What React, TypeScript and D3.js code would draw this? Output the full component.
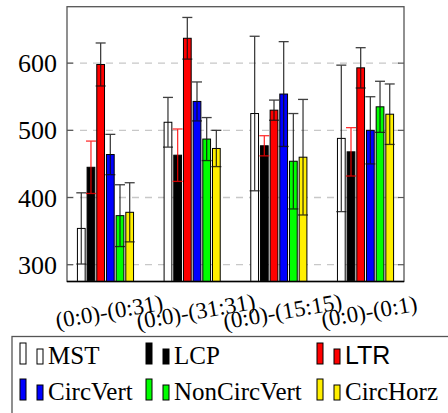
import React from 'react';
import * as d3 from 'd3';

const width = 448;
const height = 413;
const margin = {top: 6.7, right: 44, bottom: 131.5, left: 67};

const categories = ['(0:0)-(0:31)', '(0:0)-(31:31)', '(0:0)-(15:15)', '(0:0)-(0:1)'];
const series = ['MST', 'LCP', 'LTR', 'CircVert', 'NonCircVert', 'CircHorz'];
const colors = ['#ffffff', '#000000', '#ff0000', '#0000ff', '#00ff00', '#ffef00'];
const yTicks = [300, 400, 500, 600];

// mean and error half-width per series, one value per category
const mstValues = [354, 512, 525, 488];
const mstErrors = [53, 37, 115, 109];
const lcpValues = [445, 463, 477, 468];
const lcpErrors = [39, 39, 15, 36];
const ltrValues = [598, 637, 530, 593];
const ltrErrors = [32, 31, 15, 30];
const circVertValues = [464, 543, 554, 500];
const circVertErrors = [30, 29, 78, 50];
const nonCircVertValues = [373, 487, 454, 535];
const nonCircVertErrors = [46, 32, 71, 38];
const circHorzValues = [378, 473, 460, 524];
const circHorzErrors = [44, 27, 86, 45];

const values = [mstValues, lcpValues, ltrValues, circVertValues, nonCircVertValues, circHorzValues];
const errors = [mstErrors, lcpErrors, ltrErrors, circVertErrors, nonCircVertErrors, circHorzErrors];

const css = `
  .serif { font-family: 'Liberation Serif', 'Times New Roman', Times, serif; }
  .sans { font-family: 'Liberation Sans', Arial, Helvetica, sans-serif; }
`;

const xScale = d3.scalePoint<string>()
  .domain(categories)
  .range([margin.left, width - margin.right])
  .padding(0.444);
const inner = d3.scaleBand<string>().domain(series).range([-30, 30]).padding(0.2);
const yScale = d3.scaleLinear().domain([275, 684]).range([height - margin.bottom, margin.top]);

export default function App() {
  const x0 = margin.left;
  const x1 = width - margin.right;
  const yb = yScale(275);
  const yt = yScale(684);
  const bw = inner.bandwidth();

  const legendCols = [20, 146, 317];
  const legendRows = [364, 400];

  return (
    <svg width={width} height={height} style={{position: 'absolute', left: 0, top: 0}}>
      <style>{css}</style>
      <rect width={width} height={height} fill='#fff' />
      {/* grid */}
      {yTicks.map(t => (
        <line key={'g' + t} x1={x0} x2={x1} y1={yScale(t)} y2={yScale(t)}
          stroke='#c8c8c8' strokeWidth={1.3} strokeDasharray='7 6' />
      ))}
      {/* bars */}
      {series.map((s, si) => categories.map((c, ci) => {
        const cx = xScale(c)! + inner(s)! + bw / 2;
        const v = values[si][ci];
        return (
          <rect key={s + c} x={cx - bw / 2} y={yScale(v)} width={bw} height={yb - yScale(v)}
            fill={colors[si]} stroke='#000' strokeWidth={1} />
        );
      }))}
      {/* error bars */}
      {series.map((s, si) => categories.map((c, ci) => {
        const cx = xScale(c)! + inner(s)! + bw / 2;
        const v = values[si][ci];
        const e = errors[si][ci];
        const col = s === 'LCP' ? '#ff0000' : '#111';
        const hi = yScale(v + e);
        const lo = yScale(v - e);
        return (
          <g key={'e' + s + c} stroke={col} strokeWidth={1.3} opacity={0.8}>
            <line x1={cx} x2={cx} y1={hi} y2={lo} />
            <line x1={cx - 5} x2={cx + 5} y1={hi} y2={hi} />
            <line x1={cx - 5} x2={cx + 5} y1={lo} y2={lo} />
          </g>
        );
      }))}
      {/* frame and ticks */}
      <rect x={x0} y={yt} width={x1 - x0} height={yb - yt} fill='none' stroke='#555' strokeWidth={1.3} />
      <line x1={x0} x2={x1} y1={yb} y2={yb} stroke='#000' strokeWidth={1.5} />
      {yTicks.map(t => (
        <g key={'t' + t}>
          <line x1={x0} x2={x0 + 6} y1={yScale(t)} y2={yScale(t)} stroke='#555' strokeWidth={1.2} />
          <line x1={x1 - 6} x2={x1} y1={yScale(t)} y2={yScale(t)} stroke='#555' strokeWidth={1.2} />
          <text className='serif' x={x0 - 10} y={yScale(t) + 9} textAnchor='end' fontSize={26}>{t}</text>
        </g>
      ))}
      {categories.map(c => (
        <text key={'x' + c} className='serif' transform={`translate(${xScale(c)! + 5}, 319) rotate(-10)`}
          textAnchor='middle' fontSize={23}>{c}</text>
      ))}
      {/* legend, right and bottom edges fall outside the page */}
      <rect x={12} y={336.5} width={460} height={120} fill='#fff' stroke='#555' strokeWidth={1.3} />
      {series.map((s, si) => {
        const lx = legendCols[si % 3];
        const ly = legendRows[Math.floor(si / 3)];
        return (
          <g key={'l' + s}>
            <rect x={lx} y={ly - 21} width={6} height={21} fill={colors[si]} stroke='#000' strokeWidth={1} />
            <rect x={lx + 17} y={ly - 15} width={6} height={15} fill={colors[si]} stroke='#000' strokeWidth={1} />
            <text className={s === 'LTR' ? 'sans' : 'serif'} x={lx + 28} y={ly} fontSize={25}>{s}</text>
          </g>
        );
      })}
    </svg>
  );
}
